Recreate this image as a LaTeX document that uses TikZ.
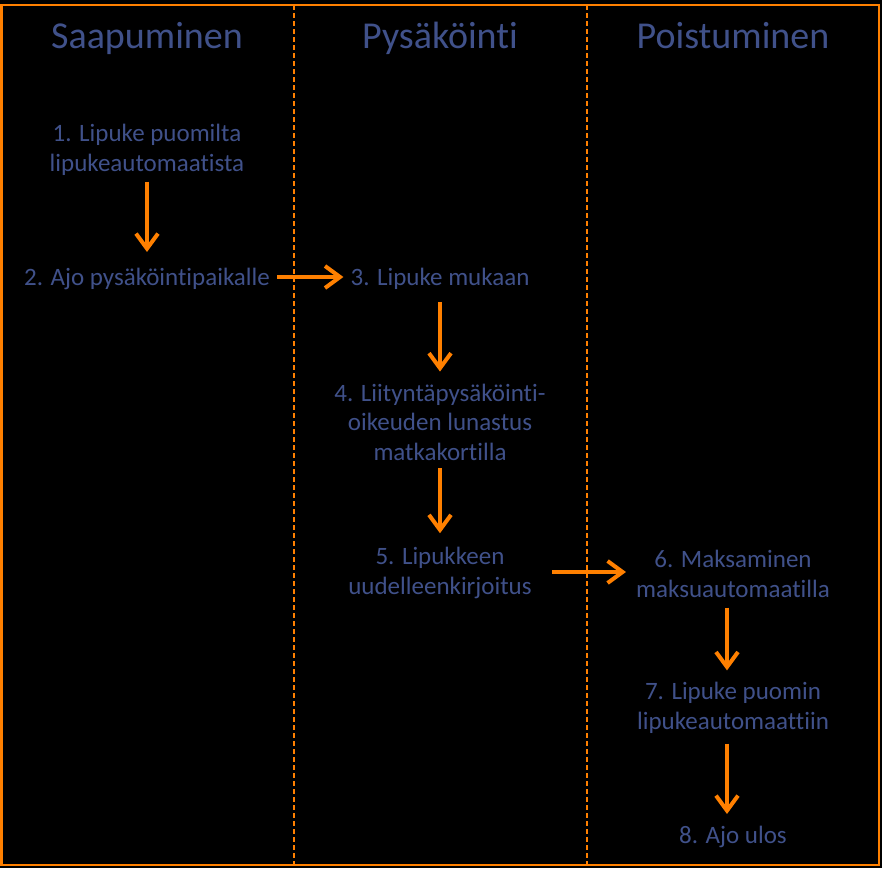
\documentclass[tikz,border=0pt]{standalone}
\usepackage{fontspec}
\setmainfont{Carlito}[Ligatures={NoCommon,NoContextual}, Contextuals=NoAlternate]
\usepackage{xcolor}
\usepackage{tikz}
\usetikzlibrary{positioning,calc,arrows.meta}

\definecolor{parkorange}{RGB}{255,128,0}
\definecolor{parkblue}{RGB}{64,81,138}

\tikzset{
	phase/.style={text=parkblue, font=\fontsize{38}{44}\selectfont, inner sep=0pt, anchor=base},
	stepnode/.style={text=parkblue, font=\fontsize{25}{29.5}\selectfont, align=center, inner sep=0pt},
	flow/.style={-{Straight Barb[length=15pt,width=22pt]}, parkorange, line width=4pt},
	divider/.style={parkorange, line width=2pt, dash pattern=on 5pt off 3pt},
}

\begin{document}
\begin{tikzpicture}[x=1pt,y=-1pt]
		\fill[black] (0,0) rectangle (882,868);
		\useasboundingbox (0,0) rectangle (882,868);
		\draw[parkorange, line width=2.5pt] (1.5,5) rectangle (879,865);
		\draw[divider] (294,5)--(294,865);
		\draw[divider] (587,5)--(587,865);
		
		% column titles
		\node[phase] (arrive) at (147,48) {Saapuminen};
		\node[phase] (park) at (440,48) {Pysäköinti};
		\node[phase] (leave) at (733,48) {Poistuminen};
		
		% steps
		\node[stepnode] (s1) at (147,150) {1. Lipuke puomilta\\lipukeautomaatista};
		\node[stepnode] (s2) at (147,279) {2. Ajo pysäköintipaikalle};
		\node[stepnode] (s3) at (440,279) {3. Lipuke mukaan};
		\node[stepnode] (s4) at (440,422) {4. Liityntäpysäköinti-\\oikeuden lunastus\\matkakortilla};
		\node[stepnode] (s5) at (440,573) {5. Lipukkeen\\uudelleenkirjoitus};
		\node[stepnode] (s6) at (733,574) {6. Maksaminen\\maksuautomaatilla};
		\node[stepnode] (s7) at (733,708) {7. Lipuke puomin\\lipukeautomaattiin};
		\node[stepnode] (s8) at (733,837) {8. Ajo ulos};
		
		\draw[flow, shorten <=6pt, shorten >=16pt] (s1.south)--(s2.north);
		\draw[flow, shorten <=7pt, shorten >=7pt] ([yshift=2pt]s2.east)--([yshift=2pt]s2.east -| s3.west);
		\draw[flow, shorten <=12pt, shorten >=12pt] (s3.south)--(s4.north);
		\draw[flow, shorten <=8pt, shorten >=14pt] (s4.south)--(s5.north);
		\draw[flow, shorten <=20pt, shorten >=10pt] ([yshift=1pt]s5.east)--([yshift=1pt]s5.east -| s6.west);
		\draw[flow, shorten <=10pt, shorten >=12pt] ([xshift=-6pt]s6.south)--([xshift=-6pt]s7.north);
		\draw[flow, shorten <=10pt, shorten >=12pt] ([xshift=-6pt]s7.south)--([xshift=-6pt]s8.north);
	\end{tikzpicture}
\end{document}
